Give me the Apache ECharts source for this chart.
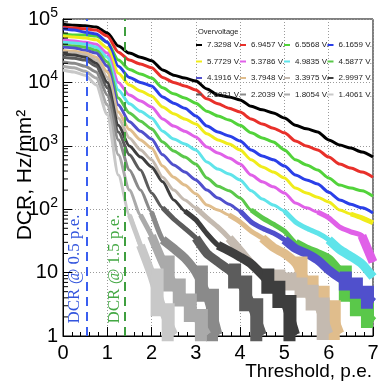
<!DOCTYPE html>
<html><head><meta charset="utf-8">
<script src="https://cdn.jsdelivr.net/npm/echarts@6/dist/echarts.min.js"></script>
<style>html,body{margin:0;padding:0;background:#fff}#c{width:384px;height:389px}</style>
</head><body><div id="c"></div>
<script>
// Threshold sample positions (p.e.)
const thresholds = [0,0.25,0.5,0.75,1,1.25,1.5,1.75,2,2.25,2.5,2.75,3,3.25,3.5,3.75,4,4.25,4.5,4.75,5,5.25,5.5,5.75,6,6.25,6.5,6.75,7];

// DCR (Hz/mm^2) per overvoltage
const ov7_3298 = [83000,80000,78000,75000,60000,37500,29000,25000,22000,15700,13000,11700,10500,7900,6300,5900,5300,4200,3700,3300,2750,2100,1850,1650,1240,1030,920,800,665];
const ov6_9457 = [75000,72000,70000,67000,54000,30000,22500,19500,17000,12000,10000,8800,7600,5500,4600,3900,3400,2650,2200,1900,1600,1190,990,860,665,515,445,385,320];
const ov6_5568 = [58000,56000,56000,54000,43000,22500,16000,13600,11700,8200,6600,5700,4700,3500,2950,2550,2100,1600,1330,1150,860,600,500,415,310,240,215,195,160];
const ov6_1659 = [70000,67000,62000,58000,43000,18000,12000,10000,8800,5900,4700,3900,2950,2050,1650,1430,1190,860,690,600,480,345,290,250,185,140,120,105,87];
const ov5_7729 = [54000,52000,50000,47000,35000,14000,9100,7300,6100,4100,3200,2650,2200,1550,1240,1070,860,600,465,385,310,215,180,155,130,97,84,73,61];
const ov5_3786 = [47000,45000,43000,40000,29000,10000,6300,5100,4100,2650,2050,1700,1380,960,770,640,515,345,270,225,180,125,105,90,73,52,44,38,14.7];
const ov4_9835 = [43000,42000,40000,36000,25000,7600,4600,3500,2750,1700,1280,1070,860,555,430,360,290,195,145,116,94,63,50,42,33,23,18,13.7,8.5];
const ov4_5877 = [39000,37500,36000,32000,21000,5700,3300,2450,1850,1150,830,665,515,310,230,195,150,97,73,58,45,29,23.5,20,16.4,10.2,4.4,2.6,1.7];
const ov4_1916 = [36000,35000,32000,29000,18000,4400,2400,1700,1280,720,500,385,290,200,150,120,94,63,50,42,33,24,20,15.8,11,8.2,6.6,4.9,3.4];
const ov3_7948 = [32000,31000,29000,25000,14600,3400,1800,1240,920,480,320,240,175,116,97,81,63,45,35,25,20,14.2,7.1,4.9,2.9,1.1];
const ov3_3975 = [30000,29000,27000,22500,12000,2750,1330,860,600,320,200,140,105,73,52,35,22,13.7,9.8,8.8,7.9,6.6,5.1,3.2,1.1];
const ov2_9997 = [28000,27000,25000,20000,10000,2100,990,665,465,270,140,94,68,41,27,22,17.6,13.7,9.2,5.9,3.5,1.05];
const ov2_6021 = [25000,24000,22500,18000,8200,1650,720,415,180,105,70,50,35,20,14.7,11,7.1,3.1,1.05];
const ov2_2039 = [21000,20000,18000,14600,6300,1240,415,200,90,33,24,17,10.2,4.4,1.05];
const ov1_8054 = [18000,17000,15000,11700,4400,720,200,81,38,14.7,6.4,3.7,2.1,1.05];
const ov1_4061 = [15700,14600,13000,9100,3100,345,81,27,9.2,2.6,1.05];

const seriesNames = ['7.3298 V.','6.9457 V.','6.5568 V.','6.1659 V.','5.7729 V.','5.3786 V.','4.9835 V.','4.5877 V.','4.1916 V.','3.7948 V.','3.3975 V.','2.9997 V.','2.6021 V.','2.2039 V.','1.8054 V.','1.4061 V.'];
const curves = [ov7_3298,ov6_9457,ov6_5568,ov6_1659,ov5_7729,ov5_3786,ov4_9835,ov4_5877,ov4_1916,ov3_7948,ov3_3975,ov2_9997,ov2_6021,ov2_2039,ov1_8054,ov1_4061];
const xTickLabels = ['0','1','2','3','4','5','6','7'];
const yTickExponents = [0,1,2,3,4,5];
const markerLines = [0.53, 1.4];
const markerTexts = ['DCR @ 0.5 p.e.','DCR @ 1.5 p.e.'];

// styles
const colors = ['#000000','#e8302a','#52d33a','#2a3fe8','#f0ec1a','#e060e8','#5fe4ea','#5ac84a','#5050cc','#e0bd8c','#c4bab0','#3e3e3e','#5c5c5c','#8a8a8a','#aaaaaa','#c8c8c8'];
const FONT = 'Liberation Sans, Arial, Helvetica, sans-serif';
// band widening for low-rate parts (drawing style only)
const tailStyles = [
  {below:80, width:5, step:false},
  {below:25, width:9, step:false},
  {below:8,  width:13, step:'middle'}
];

const chart = echarts.init(document.getElementById('c'), null, {renderer:'canvas'});

const series = [];
curves.forEach((vals, i) => {
  const data = [];
  vals.forEach((v, j) => { if (v != null) data.push([thresholds[j], v]); });
  series.push({
    type:'line', name: seriesNames[i], data, showSymbol:false, smooth:0.25, smoothMonotone:'x',
    lineStyle:{width:3, color:colors[i]}, itemStyle:{color:colors[i]}, animation:false, silent:true, z: 2
  });
  tailStyles.forEach(t => {
    const k = data.findIndex(d => d[1] <= t.below);
    if (k >= 0) {
      series.push({
        type:'line', name: seriesNames[i], data: data.slice(Math.max(0, k-1)), showSymbol:false,
        smooth: t.step ? false : 0.2, step: t.step,
        lineStyle:{width:t.width, color:colors[i], cap:'butt', join:'miter'}, itemStyle:{color:colors[i]},
        animation:false, silent:true, z: 2
      });
    }
  });
});

// y minor ticks (log 2..9)
const yMinor = [];
for (let e = 0; e < 5; e++) for (let m = 2; m <= 9; m++) yMinor.push(m * Math.pow(10, e));
series.push({
  type:'custom', data: yMinor.map(v => [0, v]), silent:true, z: 6, animation:false,
  renderItem: (params, api) => {
    const p = api.coord([0, api.value(1)]);
    return {type:'line', shape:{x1:p[0], y1:p[1], x2:p[0]+5, y2:p[1]}, style:{stroke:'#000', lineWidth:1}};
  }
});
// dashed markers
series.push({
  type:'line', data: [], silent:true, animation:false, z: 5,
  markLine:{symbol:'none', silent:true, animation:false, label:{show:false},
    data:[
      {xAxis: markerLines[0], lineStyle:{color:'#3a5ef0', width:2, type:[9,6]}},
      {xAxis: markerLines[1], lineStyle:{color:'#3f9f3f', width:2, type:[9,6]}}
    ]}
});

const legendLefts = [196, 240, 284, 327.5];
const legends = [0,1,2,3].map(c => ({
  orient:'vertical', left: legendLefts[c], top: 40, padding: 0,
  data: [seriesNames[c], seriesNames[c+4], seriesNames[c+8], seriesNames[c+12]],
  icon:'rect', itemWidth:6, itemHeight:2, itemGap:6.5, selectedMode:false,
  textStyle:{fontSize:8, color:'#222', fontFamily:FONT, lineHeight:10, padding:0}
}));

chart.setOption({
  backgroundColor:'#fff',
  animation:false,
  grid:{left:63, right:11, top:19, bottom:53, show:true, borderColor:'#000', borderWidth:1, backgroundColor:'transparent'},
  legend: legends,
  xAxis:{
    type:'value', min:0, max:7, interval:1,
    axisLine:{show:true, onZero:false, lineStyle:{color:'#000', width:1}},
    axisTick:{show:true, inside:true, length:9, lineStyle:{color:'#000'}},
    minorTick:{show:true, splitNumber:5, length:4, lineStyle:{color:'#000'}},
    axisLabel:{fontSize:20, color:'#000', margin:7, fontFamily:FONT,
      formatter: v => xTickLabels[Math.round(v)] },
    splitLine:{show:true, lineStyle:{color:'#9a9a9a', type:[1,2], width:1}}
  },
  yAxis:{
    type:'log', logBase:10, min:1, max:1e5,
    axisLine:{show:true, onZero:false, lineStyle:{color:'#000', width:1}},
    axisTick:{show:true, inside:true, length:9, lineStyle:{color:'#000'}},
    axisLabel:{color:'#000', margin:5, fontFamily:FONT,
      formatter: v => {
        const e = Math.round(Math.log10(v));
        if (yTickExponents.indexOf(e) < 0) return '';
        if (e === 0) return '{a|1}';
        if (e === 1) return '{a|10}';
        return '{a|10}{b|' + e + '}';
      },
      rich:{a:{fontSize:20, fontFamily:FONT, color:'#000'}, b:{fontSize:14, fontFamily:FONT, color:'#000', padding:[0,0,12,0]}}
    },
    splitLine:{show:true, lineStyle:{color:'#9a9a9a', type:[1,2], width:1}}
  },
  graphic:[
    {type:'text', x:25, y:175, rotation:Math.PI/2, silent:true,
      style:{text:'DCR, Hz/mm²', font:'21px ' + FONT, fill:'#000', textAlign:'center', textVerticalAlign:'middle'}},
    {type:'text', x:372, y:372, silent:true,
      style:{text:'Threshold, p.e.', font:'19px ' + FONT, fill:'#000', textAlign:'right', textVerticalAlign:'middle'}},
    {type:'text', x:198, y:32, silent:true,
      style:{text:'Overvoltage', font:'7.5px ' + FONT, fill:'#222', textAlign:'left', textVerticalAlign:'middle'}},
    {type:'text', x:75, y:269, rotation:Math.PI/2, silent:true,
      style:{text:markerTexts[0], font:'17px Liberation Serif, Times New Roman, serif', fill:'#3355dd', textAlign:'center', textVerticalAlign:'middle'}},
    {type:'text', x:115, y:269, rotation:Math.PI/2, silent:true,
      style:{text:markerTexts[1], font:'17px Liberation Serif, Times New Roman, serif', fill:'#44a844', textAlign:'center', textVerticalAlign:'middle'}}
  ],
  series
});
</script>
</body></html>
